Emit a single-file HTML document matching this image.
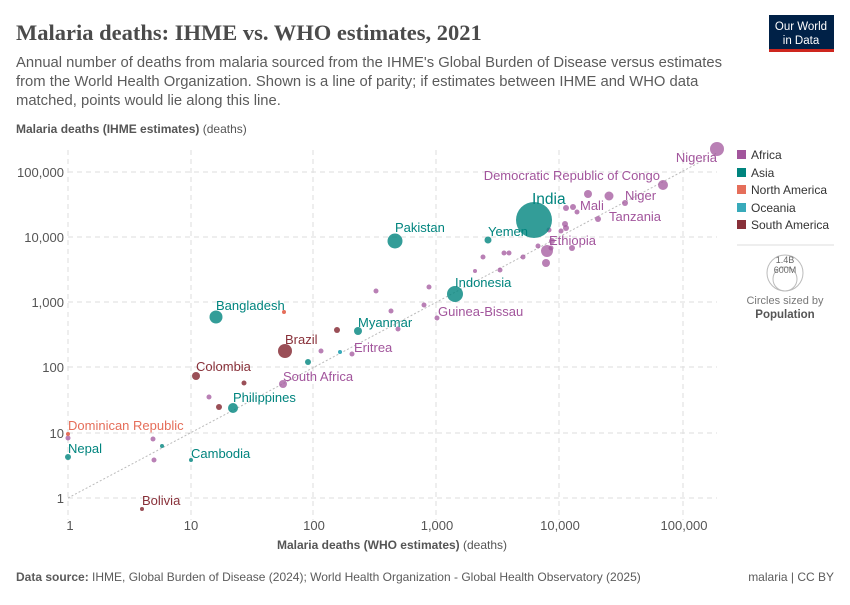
<!DOCTYPE html>
<html><head><meta charset="utf-8"><style>
body{margin:0;background:#fff;font-family:"Liberation Sans",sans-serif;}
</style></head><body>
<svg width="850" height="600" xmlns="http://www.w3.org/2000/svg" font-family="Liberation Sans, sans-serif">
<rect width="850" height="600" fill="#fff"/>
<text x="16" y="40" font-family="Liberation Serif, serif" font-size="22.5" font-weight="bold" fill="#4b4b4b">Malaria deaths: IHME vs. WHO estimates, 2021</text>
<text font-size="14.8" fill="#5b5b5b"><tspan x="16" y="67">Annual number of deaths from malaria sourced from the IHME's Global Burden of Disease versus estimates</tspan><tspan x="16" y="86">from the World Health Organization. Shown is a line of parity; if estimates between IHME and WHO data</tspan><tspan x="16" y="105">matched, points would lie along this line.</tspan></text>
<rect x="769" y="15" width="65" height="34" fill="#002147"/><rect x="769" y="49" width="65" height="3" fill="#ce261e"/>
<text x="801" y="30" font-size="11.5" fill="#fff" text-anchor="middle">Our World</text><text x="801" y="44" font-size="11.5" fill="#fff" text-anchor="middle">in Data</text>
<text x="16" y="133" font-size="12" fill="#555"><tspan font-weight="bold">Malaria deaths (IHME estimates)</tspan> (deaths)</text>
<g stroke="#ddd" stroke-dasharray="5,4" stroke-width="1">
<line x1="68" y1="150" x2="68" y2="520"/><line x1="191" y1="150" x2="191" y2="520"/><line x1="313" y1="150" x2="313" y2="520"/><line x1="436" y1="150" x2="436" y2="520"/><line x1="559" y1="150" x2="559" y2="520"/><line x1="683" y1="150" x2="683" y2="520"/>
<line x1="68" y1="172" x2="717" y2="172"/><line x1="68" y1="237" x2="717" y2="237"/><line x1="68" y1="302" x2="717" y2="302"/><line x1="68" y1="367" x2="717" y2="367"/><line x1="68" y1="433" x2="717" y2="433"/><line x1="68" y1="498" x2="717" y2="498"/>
</g>
<g font-size="13" fill="#555" text-anchor="end">
<text x="64" y="177">100,000</text><text x="64" y="242">10,000</text><text x="64" y="307">1,000</text><text x="64" y="372">100</text><text x="64" y="438">10</text><text x="64" y="503">1</text>
</g>
<g font-size="13" fill="#555" text-anchor="middle">
<text x="70" y="530">1</text><text x="191" y="530">10</text><text x="314" y="530">100</text><text x="437" y="530">1,000</text><text x="560" y="530">10,000</text><text x="684" y="530">100,000</text>
</g>
<text x="392" y="549" font-size="12" fill="#555" text-anchor="middle"><tspan font-weight="bold">Malaria deaths (WHO estimates)</tspan> (deaths)</text>
<line x1="68" y1="498" x2="717" y2="153" stroke="#bbb" stroke-dasharray="2,2"/>
<g fill="#a2559c" fill-opacity="0.75">
<circle cx="717" cy="149" r="7"/><circle cx="663" cy="185" r="5"/><circle cx="625" cy="203" r="3"/><circle cx="566" cy="208" r="3"/><circle cx="573" cy="207" r="3"/><circle cx="577" cy="212" r="2.5"/><circle cx="588" cy="194" r="4"/><circle cx="609" cy="196" r="4.5"/><circle cx="598" cy="219" r="3"/><circle cx="565" cy="224" r="3"/><circle cx="566" cy="228" r="3"/><circle cx="561" cy="231" r="2.5"/><circle cx="549" cy="230" r="2.5"/><circle cx="552" cy="241" r="3"/><circle cx="538" cy="246" r="2.5"/><circle cx="551" cy="248" r="2.5"/><circle cx="572" cy="248" r="3"/><circle cx="547" cy="251" r="6"/><circle cx="546" cy="263" r="4"/><circle cx="483" cy="257" r="2.5"/><circle cx="504" cy="253" r="2.5"/><circle cx="509" cy="253" r="2.5"/><circle cx="523" cy="257" r="2.5"/><circle cx="500" cy="270" r="2.5"/><circle cx="475" cy="271" r="2"/><circle cx="376" cy="291" r="2.5"/><circle cx="429" cy="287" r="2.5"/><circle cx="424" cy="305" r="2.5"/><circle cx="391" cy="311" r="2.5"/><circle cx="437" cy="318" r="2.5"/><circle cx="398" cy="329" r="2.5"/><circle cx="352" cy="354" r="2.5"/><circle cx="283" cy="384" r="4"/><circle cx="321" cy="351" r="2.5"/><circle cx="209" cy="397" r="2.5"/><circle cx="153" cy="439" r="2.5"/><circle cx="154" cy="460" r="2.5"/><circle cx="68" cy="438" r="2.5"/>
</g>
<g fill="#00847e" fill-opacity="0.8">
<circle cx="534" cy="220" r="18"/><circle cx="488" cy="240" r="3.5"/><circle cx="395" cy="241" r="7.5"/><circle cx="455" cy="294" r="8"/><circle cx="216" cy="317" r="6.5"/><circle cx="358" cy="331" r="4"/><circle cx="233" cy="408" r="5"/><circle cx="68" cy="457" r="3"/><circle cx="191" cy="460" r="2"/><circle cx="162" cy="446" r="2"/><circle cx="308" cy="362" r="3"/>
</g>
<g fill="#883039" fill-opacity="0.85">
<circle cx="285" cy="351" r="7"/><circle cx="196" cy="376" r="4"/><circle cx="142" cy="509" r="2"/><circle cx="337" cy="330" r="3"/><circle cx="244" cy="383" r="2.5"/><circle cx="219" cy="407" r="3"/>
</g>
<g fill="#e56e5a"><circle cx="68" cy="434" r="2"/><circle cx="284" cy="312" r="2"/></g>
<circle cx="340" cy="352" r="2" fill="#38aaba"/>
<g font-size="13" fill="#a2559c">
<text x="717" y="162" text-anchor="end">Nigeria</text>
<text x="660" y="180" text-anchor="end">Democratic Republic of Congo</text>
<text x="625" y="200">Niger</text><text x="580" y="210">Mali</text><text x="609" y="221">Tanzania</text>
<text x="549" y="245">Ethiopia</text><text x="438" y="316">Guinea-Bissau</text>
<text x="354" y="352">Eritrea</text><text x="283" y="381">South Africa</text>
</g>
<g font-size="13" fill="#00847e">
<text x="532" y="204" font-size="15.5">India</text><text x="488" y="236">Yemen</text><text x="395" y="232">Pakistan</text>
<text x="455" y="287">Indonesia</text><text x="216" y="310">Bangladesh</text><text x="358" y="327">Myanmar</text>
<text x="233" y="402">Philippines</text><text x="68" y="453">Nepal</text><text x="191" y="458">Cambodia</text>
</g>
<g font-size="13" fill="#883039"><text x="285" y="344">Brazil</text><text x="196" y="371">Colombia</text><text x="142" y="505">Bolivia</text></g>
<text x="68" y="430" font-size="13" fill="#e56e5a">Dominican Republic</text>
<g font-size="12" fill="#333">
<rect x="737" y="150" width="9" height="9" fill="#a2559c"/><text x="751" y="159">Africa</text>
<rect x="737" y="168" width="9" height="9" fill="#00847e"/><text x="751" y="177">Asia</text>
<rect x="737" y="185" width="9" height="9" fill="#e56e5a"/><text x="751" y="194">North America</text>
<rect x="737" y="203" width="9" height="9" fill="#38aaba"/><text x="751" y="212">Oceania</text>
<rect x="737" y="220" width="9" height="9" fill="#883039"/><text x="751" y="229">South America</text>
</g>
<line x1="737" y1="245" x2="834" y2="245" stroke="#ddd"/>
<circle cx="785" cy="273" r="18" fill="none" stroke="#bbb"/><circle cx="785" cy="279" r="12" fill="none" stroke="#bbb"/>
<text x="785" y="263" font-size="9" fill="#666" text-anchor="middle">1.4B</text><text x="785" y="273" font-size="9" fill="#666" text-anchor="middle">600M</text>
<text x="785" y="304" font-size="11" fill="#777" text-anchor="middle">Circles sized by</text>
<text x="785" y="318" font-size="11.5" fill="#555" font-weight="bold" text-anchor="middle">Population</text>
<text x="16" y="581" font-size="12" fill="#5b5b5b"><tspan font-weight="bold">Data source:</tspan> IHME, Global Burden of Disease (2024); World Health Organization - Global Health Observatory (2025)</text>
<text x="834" y="581" font-size="12" fill="#5b5b5b" text-anchor="end">malaria | CC BY</text>
</svg>
</body></html>
